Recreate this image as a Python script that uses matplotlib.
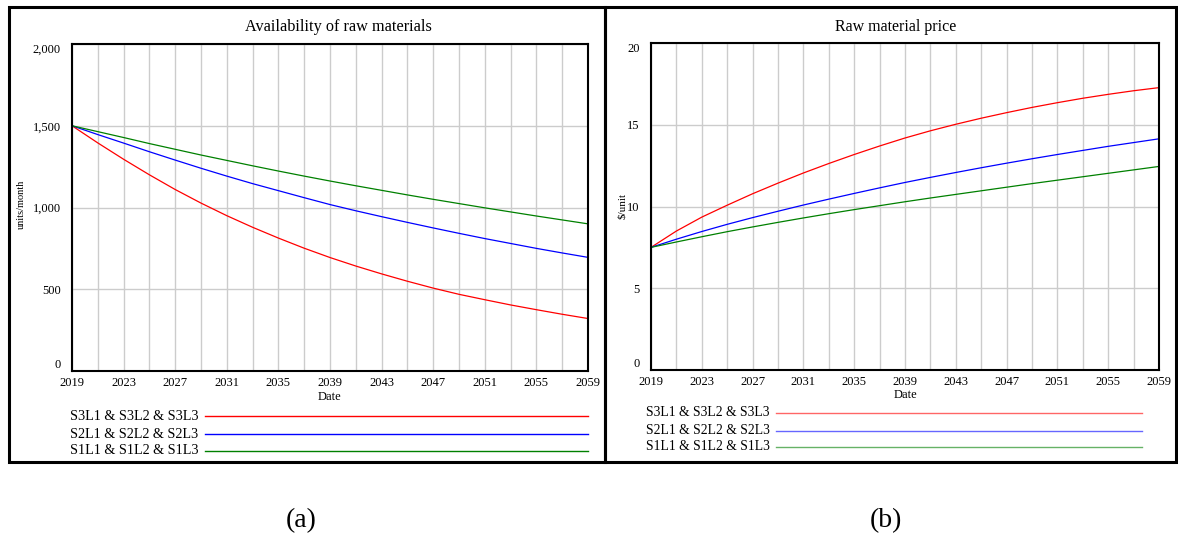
import matplotlib
matplotlib.use("Agg")
import matplotlib.pyplot as plt
from matplotlib.lines import Line2D
from matplotlib.patches import Rectangle

plt.rcParams['font.family'] = ['Liberation Serif', 'DejaVu Serif']

W, H = 1178, 540

years = list(range(2019, 2060, 2))

# (a) Availability of raw materials (units/month)
avail_s3 = [1500, 1395, 1295, 1200, 1110, 1027, 950, 879, 813, 751, 694,
            642, 594, 549, 507, 469, 436, 404, 375, 347, 321]
avail_s2 = [1500, 1446, 1394, 1341, 1290, 1240, 1192, 1146, 1103, 1060, 1018,
            980, 944, 909, 875, 842, 810, 780, 750, 722, 695]
avail_s1 = [1500, 1464, 1428, 1391, 1356, 1321, 1288, 1255, 1223, 1192, 1162,
            1133, 1105, 1077, 1050, 1024, 998, 973, 948, 924, 900]

# (b) Raw material price ($/unit)
price_s3 = [7.5, 8.5, 9.35, 10.08, 10.78, 11.43, 12.05, 12.63, 13.18, 13.7, 14.19,
            14.63, 15.03, 15.4, 15.74, 16.06, 16.35, 16.62, 16.86, 17.08, 17.27]
price_s2 = [7.5, 8.0, 8.47, 8.91, 9.32, 9.71, 10.09, 10.45, 10.8, 11.14, 11.47,
            11.78, 12.08, 12.37, 12.65, 12.92, 13.18, 13.43, 13.68, 13.91, 14.14]
price_s1 = [7.5, 7.83, 8.15, 8.46, 8.75, 9.03, 9.3, 9.56, 9.81, 10.05, 10.29,
            10.52, 10.74, 10.96, 11.18, 11.4, 11.61, 11.82, 12.03, 12.24, 12.45]

series_labels = ["S3L1 & S3L2 & S3L3", "S2L1 & S2L2 & S2L3", "S1L1 & S1L2 & S1L3"]
colors = ["#ff0000", "#0000ff", "#008000"]

fig = plt.figure(figsize=(W / 100, H / 100), dpi=100)


def fx(x):
    return x / W


def fy(y):
    return 1 - y / H


def make_axes(l, r, t, b):
    return fig.add_axes([fx(l), fy(b), fx(r) - fx(l), fy(t) - fy(b)])


def style_axes(ax, ymax, ystep, yfmt):
    ax.set_xlim(2019, 2059)
    ax.set_ylim(0, ymax)
    ax.set_xticks(years)
    ax.set_xticklabels([str(y) if (y - 2019) % 4 == 0 else "" for y in years])
    yt = [i * ystep for i in range(int(ymax / ystep) + 1)]
    ax.set_yticks(yt)
    ax.set_yticklabels([yfmt(v) for v in yt])
    ax.tick_params(length=0, labelsize=9, pad=4)
    ax.tick_params(axis='y', pad=8)
    labs = ax.get_yticklabels()
    labs[0].set_verticalalignment('bottom')
    labs[-1].set_verticalalignment('top')
    ax.grid(True, color="#cccccc", lw=1)
    ax.set_axisbelow(True)
    for s in ax.spines.values():
        s.set_color("black")
        s.set_linewidth(1.5)


# Left panel
axL = make_axes(72, 588, 44, 371)
for vals, c in zip([avail_s3, avail_s2, avail_s1], colors):
    axL.plot(years, vals, color=c, lw=0.9)
style_axes(axL, 2000, 500, lambda v: f"{int(v):,}")

# Right panel
axR = make_axes(651, 1159, 43, 370)
for vals, c in zip([price_s3, price_s2, price_s1], colors):
    axR.plot(years, vals, color=c, lw=0.9)
style_axes(axR, 20, 5, lambda v: f"{int(v)}")

# Titles, axis labels
fig.text(fx(338), fy(27), "Availability of raw materials", ha='center', va='center', fontsize=11.7)
fig.text(fx(896), fy(27), "Raw material price", ha='center', va='center', fontsize=11.5)
fig.text(fx(329), fy(397), "Date", ha='center', va='center', fontsize=9)
fig.text(fx(905), fy(395), "Date", ha='center', va='center', fontsize=9)
fig.text(fx(21), fy(204), "units/month", ha='center', va='center', rotation=90, fontsize=7.5)
fig.text(fx(622), fy(206), "$/unit", ha='center', va='center', rotation=90, fontsize=8)

# Legends
for i, (lab, c) in enumerate(zip(series_labels, colors)):
    yl = [416, 434, 451][i]
    fig.text(fx(198), fy(yl), lab, ha='right', va='center', fontsize=10.2)
    fig.add_artist(Line2D([fx(205), fx(588)], [fy(yl), fy(yl)], color=c, lw=1.0))
    yr = [413, 431, 447][i]
    fig.text(fx(770), fy(yr), lab, ha='right', va='center', fontsize=9.8)
    fig.add_artist(Line2D([fx(776), fx(1142)], [fy(yr), fy(yr)], color=c, lw=1.0, alpha=0.6))

# Outer panel boxes
fig.add_artist(Rectangle((fx(9), fy(462)), fx(605) - fx(9), fy(7) - fy(462),
                         fill=False, edgecolor='black', lw=2.2))
fig.add_artist(Rectangle((fx(605), fy(462)), fx(1176) - fx(605), fy(7) - fy(462),
                         fill=False, edgecolor='black', lw=2.2))

# Captions
fig.text(fx(301), fy(521), "(a)", ha='center', va='center', fontsize=20)
fig.text(fx(886), fy(521), "(b)", ha='center', va='center', fontsize=20)

fig.savefig("out.png", dpi=100)
